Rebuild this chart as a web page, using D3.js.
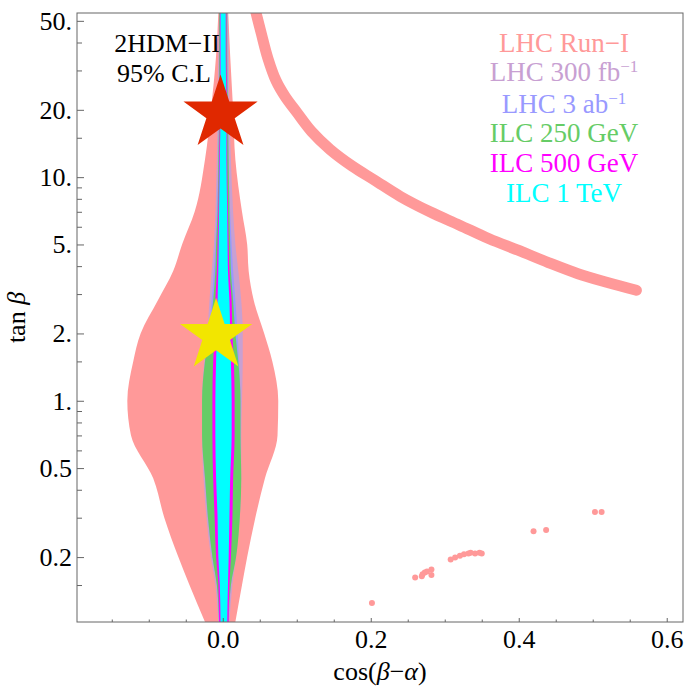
<!DOCTYPE html>
<html lang="en">
<head>
<meta charset="UTF-8">
<title>2HDM-II: tan beta vs cos(beta-alpha)</title>
<script src="https://d3js.org/d3.v7.min.js"></script>
<style>
  body { margin: 0; background: #fff; }
  text { font-family: "Liberation Serif", "DejaVu Serif", serif; }
  .frame { fill: none; stroke: #666; stroke-width: 1; }
  .tick line { stroke: #666; }
</style>
</head>
<body>
<svg id="chart" width="688" height="691"></svg>
<script>
const tanLevels = [0.1025, 0.15, 0.2, 0.3, 0.45, 0.7, 1, 1.5, 2, 2.8, 3.8, 5, 7, 12, 20, 35, 54.2];

// [left, right] edges in cos(beta-alpha), one pair per tan(beta) level
const lhcRun1Band = [
  [-0.024, 0.017], [-0.045, 0.026], [-0.060, 0.033], [-0.079, 0.044], [-0.094, 0.057],
  [-0.124, 0.074], [-0.129, 0.075], [-0.121, 0.067], [-0.111, 0.056], [-0.088, 0.042],
  [-0.067, 0.035], [-0.055, 0.033], [-0.038, 0.026], [-0.024, 0.017], [-0.016, 0.014],
  [-0.009, 0.010], [-0.006, 0.0074]
];
const lhc300Band = [
  [-0.006, 0.009], [-0.010, 0.013], [-0.016, 0.018], [-0.022, 0.023], [-0.026, 0.025],
  [-0.028, 0.025], [-0.028, 0.026], [-0.025, 0.027], [-0.021, 0.027], [-0.018, 0.025],
  [-0.015, 0.021], [-0.012, 0.017], [-0.010, 0.014], [-0.008, 0.011], [-0.007, 0.009],
  [-0.006, 0.008], [-0.005, 0.007]
];
const lhc3000Band = [
  [-0.005, 0.008], [-0.008, 0.011], [-0.014, 0.017], [-0.020, 0.022], [-0.024, 0.024],
  [-0.027, 0.024], [-0.027, 0.024], [-0.024, 0.022], [-0.019, 0.020], [-0.015, 0.017],
  [-0.012, 0.014], [-0.010, 0.012], [-0.008, 0.010], [-0.006, 0.008], [-0.005, 0.007],
  [-0.005, 0.006], [-0.005, 0.006]
];
const ilc250Band = [
  [-0.005, 0.008], [-0.008, 0.011], [-0.014, 0.018], [-0.020, 0.023], [-0.024, 0.025],
  [-0.028, 0.024], [-0.028, 0.024], [-0.024, 0.021], [-0.018, 0.017], [-0.013, 0.014],
  [-0.010, 0.011], [-0.009, 0.010], [-0.007, 0.009], [-0.006, 0.008], [-0.005, 0.007],
  [-0.005, 0.006], [-0.005, 0.006]
];
const ilc500Band = [
  [-0.005, 0.008], [-0.006, 0.009], [-0.009, 0.011], [-0.011, 0.013], [-0.013, 0.014],
  [-0.014, 0.016], [-0.014, 0.016], [-0.013, 0.015], [-0.011, 0.013], [-0.010, 0.012],
  [-0.008, 0.009], [-0.007, 0.008], [-0.006, 0.007], [-0.005, 0.006], [-0.004, 0.006],
  [-0.004, 0.005], [-0.004, 0.005]
];
const ilc1000Band = [
  [-0.003, 0.006], [-0.004, 0.007], [-0.006, 0.008], [-0.007, 0.009], [-0.009, 0.010],
  [-0.010, 0.012], [-0.010, 0.012], [-0.009, 0.011], [-0.008, 0.010], [-0.007, 0.009],
  [-0.006, 0.007], [-0.0055, 0.0065], [-0.005, 0.006], [-0.004, 0.005], [-0.003, 0.005],
  [-0.003, 0.004], [-0.003, 0.004]
];

// wrong-sign branch of the LHC Run-I fit (centre line)
const wrongSignCos = [0.045, 0.052, 0.061, 0.072, 0.084, 0.100, 0.120, 0.145, 0.175, 0.205,
  0.240, 0.280, 0.320, 0.360, 0.400, 0.440, 0.480, 0.520, 0.559];
const wrongSignTan = [54.2, 44, 34, 27, 23, 19.5, 16, 13.3, 11.2, 9.7,
  8.2, 7.0, 6.1, 5.3, 4.7, 4.15, 3.7, 3.38, 3.12];

// isolated LHC Run-I points at small tan(beta)
const strayCos = [0.2016, 0.260, 0.269, 0.270, 0.273, 0.276, 0.282, 0.282, 0.308, 0.314,
  0.3205, 0.326, 0.332, 0.335, 0.341, 0.347, 0.350, 0.420, 0.437, 0.503, 0.512];
const strayTan = [0.1247, 0.162, 0.164, 0.1676, 0.1705, 0.1723, 0.1759, 0.1664, 0.195, 0.199,
  0.203, 0.206, 0.2075, 0.209, 0.2075, 0.209, 0.2075, 0.261, 0.264, 0.318, 0.318];

// benchmark points
const starCos = [-0.003, -0.009];
const starTan = [20, 2.03];
const starColors = ["#e02800", "#f2e600"];

// legend and tick labels
const legendLabels = ["LHC Run\u2212I", "LHC 300 fb", "LHC 3 ab", "ILC 250 GeV", "ILC 500 GeV", "ILC 1 TeV"];
const legendSup = ["", "\u22121", "\u22121", "", "", ""];
const bandColors = ["#ff9999", "#c8a0d2", "#9999ff", "#66cc66", "#ff00ff", "#00ffff"];
const yMajorTicks = [0.2, 0.5, 1, 2, 5, 10, 20, 50];
const yMinorTicks = [0.15, 0.3, 0.4, 0.6, 0.7, 0.8, 0.9, 1.5, 3, 4, 6, 7, 8, 9, 15, 30, 40];
const xMajorTicks = [0, 0.2, 0.4, 0.6];
const xMinorTicks = [-0.15, -0.1, -0.05, 0.05, 0.1, 0.15, 0.25, 0.3, 0.35, 0.45, 0.5, 0.55];

// plot box
const box = { left: 77, right: 683, top: 13, bottom: 622 };

const svg = d3.select("#chart");

const x = d3.scaleLinear().domain([-0.197, 0.622]).range([box.left, box.right]);
const y = d3.scaleLog().domain([0.1025, 54.2]).range([box.bottom, box.top]);

svg.append("defs").append("clipPath")
  .attr("id", "plotClip")
  .append("rect")
  .attr("x", box.left)
  .attr("y", box.top)
  .attr("width", box.right - box.left)
  .attr("height", box.bottom - box.top);

const plot = svg.append("g").attr("clip-path", "url(#plotClip)");

// vertical band generator: y from tan(beta), x0/x1 from the edges
const band = d3.area()
  .curve(d3.curveMonotoneY)
  .y((d, i) => y(tanLevels[i]))
  .x0(d => x(d[0]))
  .x1(d => x(d[1]));

const bands = [lhcRun1Band, lhc300Band, lhc3000Band, ilc250Band, ilc500Band, ilc1000Band];

// LHC Run-I: main region, wrong-sign branch and stray points
plot.append("path")
  .attr("d", band(lhcRun1Band))
  .attr("fill", bandColors[0]);

const branchLine = d3.line()
  .curve(d3.curveCatmullRom)
  .x(d => x(d[0]))
  .y(d => y(d[1]));

plot.append("path")
  .attr("d", branchLine(d3.zip(wrongSignCos, wrongSignTan)))
  .attr("fill", "none")
  .attr("stroke", bandColors[0])
  .attr("stroke-width", 11)
  .attr("stroke-linecap", "round")
  .attr("stroke-linejoin", "round");

plot.selectAll(".stray")
  .data(d3.zip(strayCos, strayTan))
  .join("circle")
  .attr("class", "stray")
  .attr("cx", d => x(d[0]))
  .attr("cy", d => y(d[1]))
  .attr("r", 3)
  .attr("fill", bandColors[0]);

// remaining projections on top
bands.slice(1).forEach((b, i) => {
  plot.append("path")
    .attr("d", band(b))
    .attr("fill", bandColors[i + 1]);
});

// benchmark stars (bounding box centred on the point)
const starR = [39, 38];
starCos.forEach((c, i) => {
  const r = starR[i];
  svg.append("path")
    .attr("d", d3.symbol(d3.symbolStar, (r * r) / 0.8908130915292852)())
    .attr("transform", `translate(${x(c)},${y(starTan[i]) + 0.0955 * r})`)
    .attr("fill", starColors[i]);
});

// frame
svg.append("rect")
  .attr("class", "frame")
  .attr("x", box.left)
  .attr("y", box.top)
  .attr("width", box.right - box.left)
  .attr("height", box.bottom - box.top);

// y axis
const yAxis = svg.append("g")
  .attr("transform", `translate(${box.left},0)`)
  .call(d3.axisLeft(y)
    .tickValues(yMajorTicks)
    .tickSizeInner(-7)
    .tickSizeOuter(0)
    .tickPadding(5)
    .tickFormat(d => (d >= 1 ? d + "." : String(d))));
yAxis.select(".domain").remove();
yAxis.attr("font-size", 26).attr("font-family", null);
yAxis.selectAll("text").attr("fill", "#000");

const yMinor = svg.append("g")
  .attr("transform", `translate(${box.left},0)`)
  .call(d3.axisLeft(y).tickValues(yMinorTicks).tickSizeInner(-5).tickSizeOuter(0).tickFormat(""));
yMinor.select(".domain").remove();

// x axis
const xAxis = svg.append("g")
  .attr("transform", `translate(0,${box.bottom})`)
  .call(d3.axisBottom(x)
    .tickValues(xMajorTicks)
    .tickSizeInner(-4)
    .tickSizeOuter(0)
    .tickPadding(8)
    .tickFormat(d3.format(".1f")));
xAxis.select(".domain").remove();
xAxis.attr("font-size", 26).attr("font-family", null);
xAxis.selectAll("text").attr("fill", "#000");

const xMinor = svg.append("g")
  .attr("transform", `translate(0,${box.bottom})`)
  .call(d3.axisBottom(x).tickValues(xMinorTicks).tickSizeInner(-2.5).tickSizeOuter(0).tickFormat(""));
xMinor.select(".domain").remove();

// axis titles
const xTitle = svg.append("text")
  .attr("x", (box.left + box.right) / 2)
  .attr("y", 680)
  .attr("text-anchor", "middle")
  .attr("font-size", 26);
xTitle.append("tspan").text("cos(");
xTitle.append("tspan").attr("font-style", "italic").text("\u03b2");
xTitle.append("tspan").text("\u2212");
xTitle.append("tspan").attr("font-style", "italic").text("\u03b1");
xTitle.append("tspan").text(")");

const yTitle = svg.append("text")
  .attr("transform", `translate(25,${(box.top + box.bottom) / 2}) rotate(-90)`)
  .attr("text-anchor", "middle")
  .attr("font-size", 26);
yTitle.append("tspan").text("tan ");
yTitle.append("tspan").attr("font-style", "italic").text("\u03b2");

// model label
svg.append("text")
  .attr("x", 167).attr("y", 52)
  .attr("text-anchor", "middle")
  .attr("font-size", 26)
  .text("2HDM\u2212II");
svg.append("text")
  .attr("x", 164).attr("y", 82)
  .attr("text-anchor", "middle")
  .attr("font-size", 26)
  .text("95% C.L");

// legend
const legendY = [52, 81, 113, 142, 172, 202];
legendLabels.forEach((label, i) => {
  const t = svg.append("text")
    .attr("x", 564)
    .attr("y", legendY[i])
    .attr("text-anchor", "middle")
    .attr("font-size", 27)
    .attr("fill", bandColors[i]);
  t.append("tspan").text(label);
  if (legendSup[i]) {
    t.append("tspan")
      .attr("dy", -9)
      .attr("font-size", 17)
      .text(legendSup[i]);
  }
});
</script>
</body>
</html>
